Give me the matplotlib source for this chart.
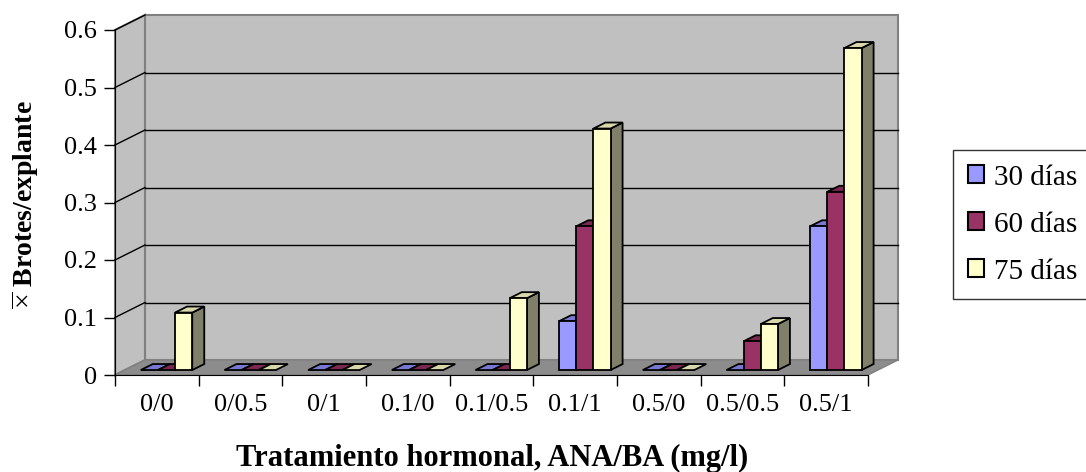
import matplotlib
matplotlib.use("Agg")
import matplotlib.pyplot as plt
from matplotlib.patches import Polygon, Patch
import numpy as np

categories = ["0/0", "0/0.5", "0/1", "0.1/0", "0.1/0.5", "0.1/1", "0.5/0", "0.5/0.5", "0.5/1"]
series_names = ["30 días", "60 días", "75 días"]
s30 = [0, 0, 0, 0, 0, 0.085, 0, 0, 0.25]
s60 = [0, 0, 0, 0, 0, 0.25, 0, 0.05, 0.31]
s75 = [0.1, 0, 0, 0, 0.125, 0.42, 0, 0.08, 0.56]
yticks = [0, 0.1, 0.2, 0.3, 0.4, 0.5, 0.6]

front_cols = ["#9999FF", "#993366", "#FFFFCC"]
top_cols = ["#7878D0", "#7A2850", "#D8D8AC"]
side_cols = ["#6A6AB0", "#6B2347", "#80806A"]

plt.rcParams["font.family"] = ["Liberation Serif", "DejaVu Serif"]
plt.rcParams["mathtext.fontset"] = "custom"
plt.rcParams["mathtext.rm"] = "Liberation Serif"
plt.rcParams["mathtext.bf"] = "Liberation Serif:bold"

W, H = 1086, 472
fig = plt.figure(figsize=(W / 100, H / 100), dpi=100)

# depth offsets in data units
DX = 30 / 83.7
DY = 15 / 575.0
ymax = 0.6
n = len(categories)

x_left, x_right = 115, 898
y_bot, y_top = 375, 15
ax = fig.add_axes([x_left / W, (H - y_bot) / H, (x_right - x_left) / W, (y_bot - y_top) / H])
ax.set_xlim(0, n + DX)
ax.set_ylim(0, ymax + DY)
ax.patch.set_alpha(0)

# walls
back = Polygon([(DX, DY), (n + DX, DY), (n + DX, ymax + DY), (DX, ymax + DY)],
               closed=True, facecolor="#C0C0C0", edgecolor="#808080", lw=1.5, zorder=0)
side = Polygon([(0, 0), (DX, DY), (DX, ymax + DY), (0, ymax)],
               closed=True, facecolor="#C0C0C0", edgecolor="#808080", lw=1.5, zorder=0)
floor = Polygon([(0, 0), (n, 0), (n + DX, DY), (DX, DY)],
                closed=True, facecolor="#8C8C8C", edgecolor="#808080", lw=1.0, zorder=0.5)
for p in (back, side, floor):
    p.set_clip_on(False)
    ax.add_patch(p)

# gridlines
for v in yticks[1:-1]:
    ax.plot([DX, n + DX], [v + DY, v + DY], color="black", lw=1.0, zorder=0.6, clip_on=False)
for v in yticks[1:]:
    ax.plot([0, DX], [v, v + DY], color="black", lw=1.0, zorder=0.6, clip_on=False)

# bars
w = 0.205
start = 0.19
f1, f2 = 0.33, 0.73
allvals = [s30, s60, s75]
z = 2
for j in range(n):
    for i, vals in enumerate(allvals):
        v = vals[j]
        x0 = j + start + i * w
        fx, fy = f1 * DX, f1 * DY
        bx, by = f2 * DX, f2 * DY
        if v > 0:
            sp = Polygon([(x0 + w + fx, fy), (x0 + w + bx, by), (x0 + w + bx, v + by), (x0 + w + fx, v + fy)],
                         closed=True, facecolor=side_cols[i], edgecolor="black", lw=1.3, zorder=z, clip_on=False)
            ax.add_patch(sp)
        tp = Polygon([(x0 + fx, v + fy), (x0 + w + fx, v + fy), (x0 + w + bx, v + by), (x0 + bx, v + by)],
                     closed=True, facecolor=top_cols[i], edgecolor="black", lw=1.3, zorder=z, clip_on=False)
        ax.add_patch(tp)
        if v > 0:
            ax.bar(x0 + fx, v, width=w, bottom=fy, align="edge", color=front_cols[i],
                   edgecolor="black", lw=1.3, zorder=z + 0.1, clip_on=False)
        z += 0.2

# axes styling
for s in ["top", "right"]:
    ax.spines[s].set_visible(False)
ax.spines["left"].set_bounds(0, ymax)
ax.spines["bottom"].set_bounds(0, n)
for s in ["left", "bottom"]:
    ax.spines[s].set_color("black")
    ax.spines[s].set_zorder(1)
ax.set_yticks(yticks)
ax.set_yticklabels([f"{t:g}" for t in yticks], fontsize=19)
ax.tick_params(axis="y", length=8, width=1, pad=5)
ax.set_xticks(np.arange(0, n + 1))
ax.set_xticklabels([])
ax.tick_params(axis="x", which="major", length=8, width=1)
ax.set_xticks(np.arange(n) + 0.5, minor=True)
ax.set_xticklabels(categories, minor=True, fontsize=19)
ax.tick_params(axis="x", which="minor", length=0, pad=14)

ax.set_xlabel("Tratamiento hormonal, ANA/BA (mg/l)", fontsize=22, fontweight="bold")
ax.xaxis.set_label_coords((492 - x_left) / (x_right - x_left), -(466 - y_bot) / (y_bot - y_top))
ax.xaxis.label.set_va("baseline")
ax.set_ylabel(r"$\overline{\times}$ Brotes/explante", fontsize=20, fontweight="bold")
ax.yaxis.set_label_coords(-(115 - 25) / (x_right - x_left), (y_bot - 205) / (y_bot - y_top))
ax.yaxis.label.set_va("center")

handles = [Patch(facecolor=c, edgecolor="black", lw=1.5) for c in front_cols]
leg = fig.legend(handles, series_names, loc="upper left", bbox_to_anchor=(953 / W, 1 - 150 / H),
                 fontsize=21, frameon=True, fancybox=False, edgecolor="black",
                 handlelength=0.55, handleheight=0.55, handletextpad=0.35, labelspacing=0.72,
                 borderpad=0.5, borderaxespad=0)
leg.get_frame().set_linewidth(1.0)

fig.savefig("out.png", dpi=100)
